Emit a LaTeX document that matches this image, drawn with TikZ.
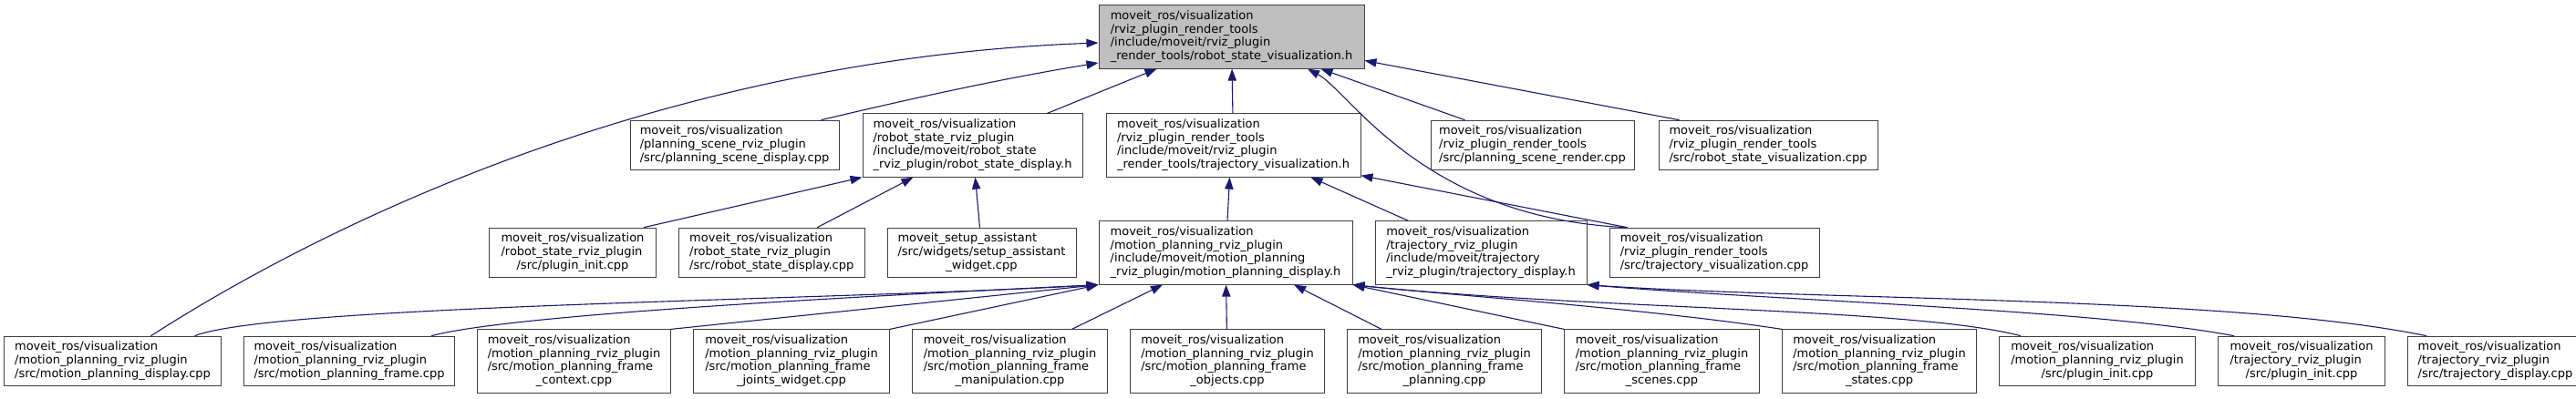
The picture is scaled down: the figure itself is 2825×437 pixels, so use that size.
\documentclass[tikz,border=0pt]{standalone}
\usepackage{fontspec}
\setmainfont{DejaVu Sans}
\usetikzlibrary{positioning,arrows.meta}
\definecolor{EdgeBlue}{HTML}{191970}
\definecolor{Frame}{HTML}{404040}
\definecolor{RootGray}{HTML}{BFBFBF}
\newcommand{\doxlabel}[2]{\begin{tabular}{@{}l@{}}#1\\\multicolumn{1}{@{}c@{}}{#2}\end{tabular}}

\begin{document}
\begin{tikzpicture}[x=1pt, y=-1pt, node distance=24pt, every node/.style={font=\fontsize{13}{14.67}\selectfont}]
  \tikzstyle{file}=[draw=Frame, fill=white, line width=1pt, inner xsep=0pt, inner ysep=5.3pt]
  \tikzstyle{rootfile}=[file, fill=RootGray]
  \tikzstyle{inc}=[-{Triangle[length=13pt,width=9.3pt]}, line width=1.1pt, color=EdgeBlue]

  \useasboundingbox (0,0) rectangle (2825,437);

  % included header
  \node[rootfile, minimum width=291pt] (root) at (1350.5,40.5) {\doxlabel{moveit\_ros/visualization\\/rviz\_plugin\_render\_tools\\/include/moveit/rviz\_plugin}{\_render\_tools/robot\_state\_visualization.h}};

  % second row
  \node[file, minimum width=229pt] (psd) at (805.5,159.5) {\doxlabel{moveit\_ros/visualization\\/planning\_scene\_rviz\_plugin}{/src/planning\_scene\_display.cpp}};
  \node[file, minimum width=241pt, right=25pt of psd] (rsdh) {\doxlabel{moveit\_ros/visualization\\/robot\_state\_rviz\_plugin\\/include/moveit/robot\_state}{\_rviz\_plugin/robot\_state\_display.h}};
  \node[file, minimum width=279pt, right=25pt of rsdh] (tvh) {\doxlabel{moveit\_ros/visualization\\/rviz\_plugin\_render\_tools\\/include/moveit/rviz\_plugin}{\_render\_tools/trajectory\_visualization.h}};
  \node[file, minimum width=223pt, right=76pt of tvh] (psr) {\doxlabel{moveit\_ros/visualization\\/rviz\_plugin\_render\_tools}{/src/planning\_scene\_render.cpp}};
  \node[file, minimum width=240pt, right=26pt of psr] (rsv) {\doxlabel{moveit\_ros/visualization\\/rviz\_plugin\_render\_tools}{/src/robot\_state\_visualization.cpp}};

  % third row
  \node[file, minimum width=183pt] (rspi) at (628,277.5) {\doxlabel{moveit\_ros/visualization\\/robot\_state\_rviz\_plugin}{/src/plugin\_init.cpp}};
  \node[file, minimum width=203.5pt, right=of rspi] (rsdc) {\doxlabel{moveit\_ros/visualization\\/robot\_state\_rviz\_plugin}{/src/robot\_state\_display.cpp}};
  \node[file, minimum width=207pt, right=of rsdc] (saw) {\doxlabel{moveit\_setup\_assistant\\/src/widgets/setup\_assistant}{\_widget.cpp}};
  \node[file, minimum width=278pt, right=of saw] (mpdh) {\doxlabel{moveit\_ros/visualization\\/motion\_planning\_rviz\_plugin\\/include/moveit/motion\_planning}{\_rviz\_plugin/motion\_planning\_display.h}};
  \node[file, minimum width=232pt, right=of mpdh] (tdh) {\doxlabel{moveit\_ros/visualization\\/trajectory\_rviz\_plugin\\/include/moveit/trajectory}{\_rviz\_plugin/trajectory\_display.h}};
  \node[file, minimum width=230pt, right=of tdh] (tvc) {\doxlabel{moveit\_ros/visualization\\/rviz\_plugin\_render\_tools}{/src/trajectory\_visualization.cpp}};

  % bottom row
  \node[file, minimum width=238pt] (mpdc) at (123.5,396.5) {\doxlabel{moveit\_ros/visualization\\/motion\_planning\_rviz\_plugin}{/src/motion\_planning\_display.cpp}};
  \node[file, minimum width=231pt, right=of mpdc] (mpf) {\doxlabel{moveit\_ros/visualization\\/motion\_planning\_rviz\_plugin}{/src/motion\_planning\_frame.cpp}};
  \node[file, minimum width=212pt, right=of mpf] (ctx) {\doxlabel{moveit\_ros/visualization\\/motion\_planning\_rviz\_plugin\\/src/motion\_planning\_frame}{\_context.cpp}};
  \node[file, minimum width=215pt, right=of ctx] (jw) {\doxlabel{moveit\_ros/visualization\\/motion\_planning\_rviz\_plugin\\/src/motion\_planning\_frame}{\_joints\_widget.cpp}};
  \node[file, minimum width=214pt, right=of jw] (man) {\doxlabel{moveit\_ros/visualization\\/motion\_planning\_rviz\_plugin\\/src/motion\_planning\_frame}{\_manipulation.cpp}};
  \node[file, minimum width=213pt, right=of man] (obj) {\doxlabel{moveit\_ros/visualization\\/motion\_planning\_rviz\_plugin\\/src/motion\_planning\_frame}{\_objects.cpp}};
  \node[file, minimum width=213pt, right=of obj] (pln) {\doxlabel{moveit\_ros/visualization\\/motion\_planning\_rviz\_plugin\\/src/motion\_planning\_frame}{\_planning.cpp}};
  \node[file, minimum width=214pt, right=of pln] (scn) {\doxlabel{moveit\_ros/visualization\\/motion\_planning\_rviz\_plugin\\/src/motion\_planning\_frame}{\_scenes.cpp}};
  \node[file, minimum width=213pt, right=of scn] (sts) {\doxlabel{moveit\_ros/visualization\\/motion\_planning\_rviz\_plugin\\/src/motion\_planning\_frame}{\_states.cpp}};
  \node[file, minimum width=215pt, right=of sts] (mppi) {\doxlabel{moveit\_ros/visualization\\/motion\_planning\_rviz\_plugin}{/src/plugin\_init.cpp}};
  \node[file, minimum width=183pt, right=of mppi] (tpi) {\doxlabel{moveit\_ros/visualization\\/trajectory\_rviz\_plugin}{/src/plugin\_init.cpp}};
  \node[file, minimum width=192pt, right=of tpi] (tdc) {\doxlabel{moveit\_ros/visualization\\/trajectory\_rviz\_plugin}{/src/trajectory\_display.cpp}};

  % includes of the header
  \draw[inc] ([xshift=42pt]mpdc.north) .. controls (350,250) and (720,65) .. ([yshift=-6.5pt]root.west);
  \draw[inc] ([xshift=95pt]psd.north) .. controls (1000,108) and (1100,86) .. ([yshift=-28.5pt]root.west);
  \draw[inc] ([xshift=82pt]rsdh.north) -- ([xshift=-82pt]root.south);
  \draw[inc] (tvh) -- (root);
  \draw[inc] ([xshift=20pt]tvc.north west) .. controls (1560,240) and (1480,100) .. ([xshift=83.5pt]root.south);
  \draw[inc] ([xshift=-74pt]psr.north) -- ([xshift=-48pt]root.south east);
  \draw[inc] ([xshift=23pt]rsv.north west) -- ([yshift=-26pt]root.east);

  % second level
  \draw[inc] ([xshift=-14pt]rspi.north east) -- (rsdh.south west);
  \draw[inc] ([xshift=50pt]rsdc.north) -- ([xshift=-65pt]rsdh.south);
  \draw[inc] ([xshift=-2pt]saw.north) -- ([xshift=3pt]rsdh.south);
  \draw[inc] ([xshift=2pt]mpdh.north) -- ([xshift=-4pt]tvh.south);
  \draw[inc] ([xshift=37pt]tdh.north west) -- ([xshift=85pt]tvh.south);
  \draw[inc] ([xshift=20pt]tvc.north west) -- ([yshift=2pt]tvh.south east);

  % motion planning display
  \draw[inc] ([xshift=90pt]mpdc.north) .. controls (300,335) and (900,330) .. (mpdh.south west);
  \draw[inc] ([xshift=90pt]mpf.north) .. controls (560,345) and (950,325) .. (mpdh.south west);
  \draw[inc] (ctx.north east) -- (mpdh.south west);
  \draw[inc] (jw.north east) -- (mpdh.south west);
  \draw[inc] ([xshift=68pt]man.north) -- ([xshift=-69pt]mpdh.south);
  \draw[inc] (obj) -- (mpdh);
  \draw[inc] ([xshift=38pt]pln.north west) -- ([xshift=75pt]mpdh.south);
  \draw[inc] (scn.north west) -- (mpdh.south east);
  \draw[inc] (sts.north west) .. controls (1800,338) and (1600,325) .. (mpdh.south east);
  \draw[inc] ([xshift=24pt]mppi.north west) .. controls (2100,338) and (1750,340) .. (mpdh.south east);

  % trajectory display
  \draw[inc] ([xshift=18pt]tpi.north west) .. controls (2300,340) and (1950,330) .. (tdh.south east);
  \draw[inc] ([xshift=21pt]tdc.north west) .. controls (2450,325) and (2000,330) .. (tdh.south east);
\end{tikzpicture}
\end{document}
